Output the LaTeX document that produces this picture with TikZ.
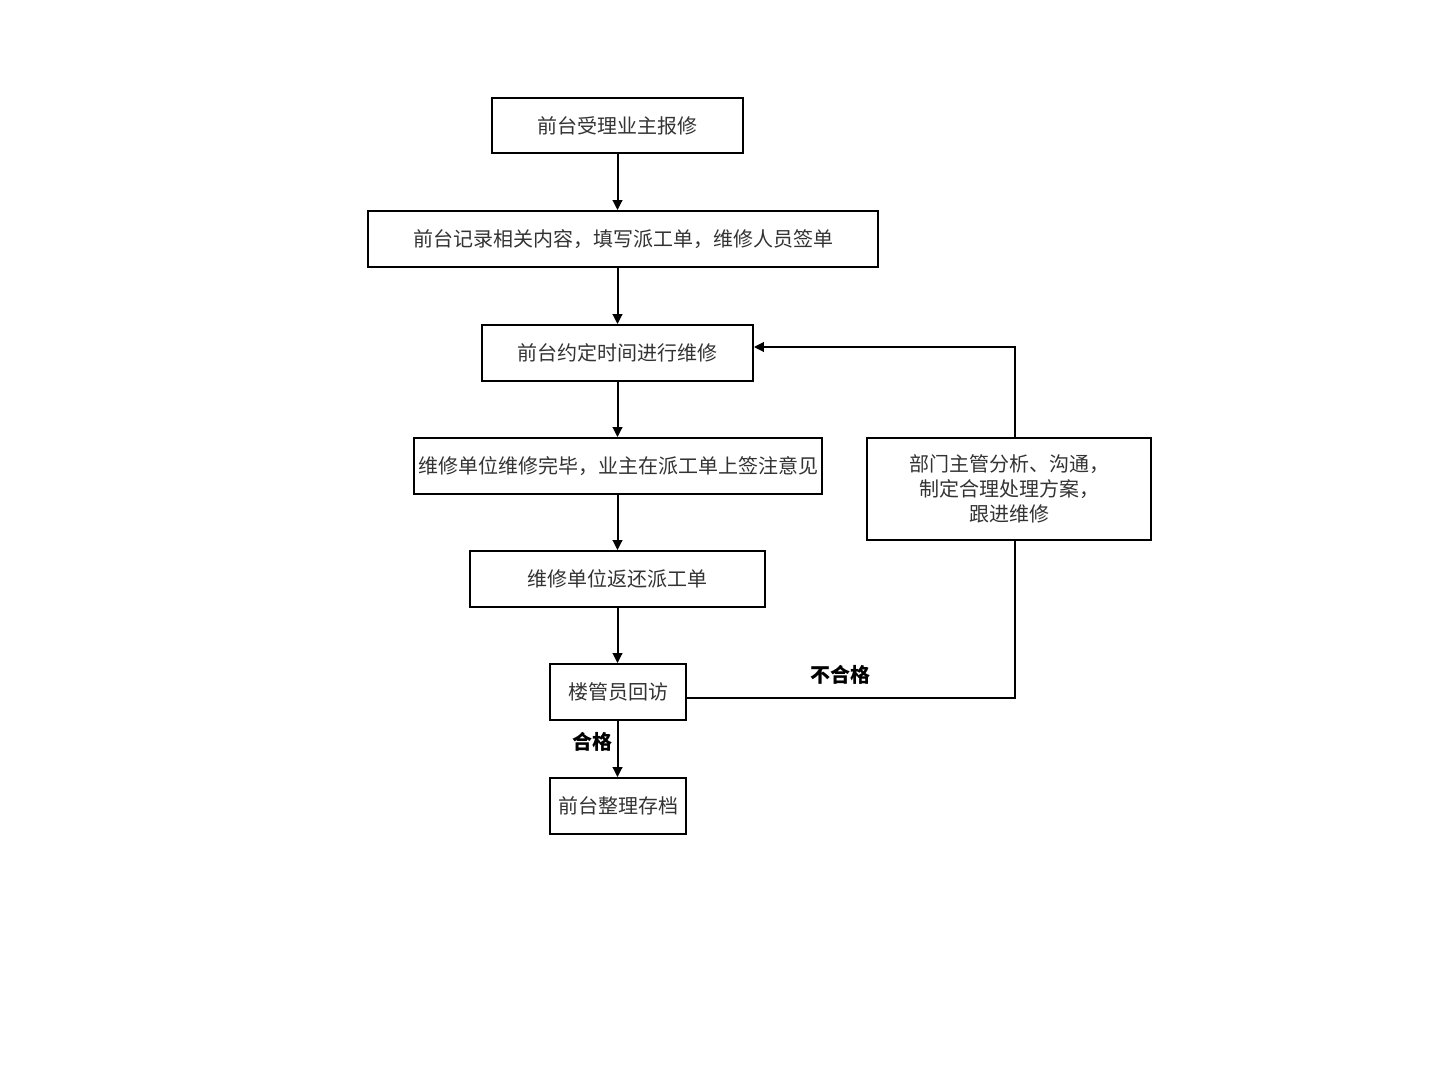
\documentclass[tikz,border=0pt]{standalone}
\usepackage{fontspec}
\setmainfont{Noto Sans CJK SC}
\usetikzlibrary{arrows.meta,shadows}
\begin{document}
\begin{tikzpicture}[x=0.5pt,y=-0.5pt,
  box/.style={draw=black,line width=0.9pt,fill=white,inner sep=0pt,
    font=\fontsize{10pt}{12.5pt}\selectfont,text=black!80,align=center,
    drop shadow={shadow xshift=0.6pt,shadow yshift=-0.6pt,fill=black,opacity=1}},
  arr/.style={line width=1pt,-{Triangle[length=5pt,width=4.8pt]}},
  ln/.style={line width=1pt},
  lab/.style={font=\fontsize{10pt}{12pt}\selectfont\bfseries}]
\useasboundingbox (0,0) rectangle (1440,1080);
\node[box,minimum width=125.5pt,minimum height=27.5pt] (b1) at (617.5,125.5) {前台受理业主报修};
\node[box,minimum width=255pt,minimum height=28pt] (b2) at (623,239) {前台记录相关内容，填写派工单，维修人员签单};
\node[box,minimum width=135.5pt,minimum height=28pt] (b3) at (617.5,353) {前台约定时间进行维修};
\node[box,minimum width=204pt,minimum height=28pt] (b4) at (618,466) {维修单位维修完毕，业主在派工单上签注意见};
\node[box,minimum width=147.5pt,minimum height=28pt] (b5) at (617.5,579) {维修单位返还派工单};
\node[box,minimum width=68pt,minimum height=28pt] (b6) at (618,692) {楼管员回访};
\node[box,minimum width=68pt,minimum height=28pt] (b7) at (618,806) {前台整理存档};
\node[box,minimum width=142pt,minimum height=51pt] (b8) at (1009,489) {部门主管分析、沟通，\\制定合理处理方案，\\跟进维修};
\draw[arr] (b1.south) -- (b1.south |- b2.north);
\draw[arr] (b1.south |- b2.south) -- (b1.south |- b3.north);
\draw[arr] (b1.south |- b3.south) -- (b1.south |- b4.north);
\draw[arr] (b1.south |- b4.south) -- (b1.south |- b5.north);
\draw[arr] (b1.south |- b5.south) -- (b1.south |- b6.north);
\draw[arr] (b1.south |- b6.south) -- (b1.south |- b7.north);
\coordinate (c1) at (1015,698);
\coordinate (c2) at (1015,347);
\draw[ln] (b6.east |- c1) -- (c1) -- (c1 |- b8.south);
\draw[arr] (c2 |- b8.north) -- (c2) -- (b3.east |- c2);
\node[lab] (l1) at (840,675) {不合格};
\node[lab] (l2) at (592,742) {合格};
\end{tikzpicture}
\end{document}
